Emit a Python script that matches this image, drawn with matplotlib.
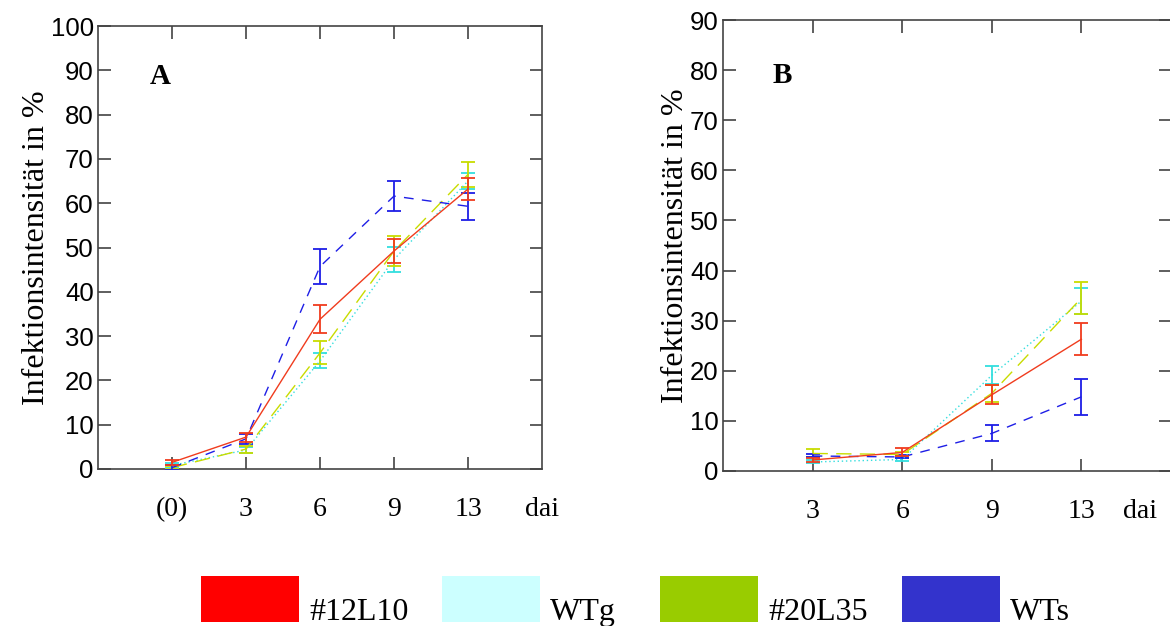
import matplotlib
matplotlib.use("Agg")
import matplotlib.pyplot as plt
from matplotlib.patches import Rectangle
from matplotlib.transforms import offset_copy

# panel A: days (0),3,6,9,13
days_a = ["(0)", "3", "6", "9", "13"]
a_12L10 = [1.5, 7.2, 33.8, 49.2, 63.2]
a_12L10_err = [0.6, 1.0, 3.2, 2.7, 2.5]
a_WTg = [0.8, 4.3, 24.4, 47.3, 65.0]
a_WTg_err = [0.5, 0.7, 1.7, 2.9, 1.9]
a_20L35 = [0.3, 4.5, 26.2, 49.2, 66.5]
a_20L35_err = [0.4, 0.8, 2.6, 3.3, 2.8]
a_WTs = [0.3, 6.8, 45.7, 61.6, 59.3]
a_WTs_err = [0.5, 1.2, 4.0, 3.4, 3.0]

# panel B: days 3,6,9,13
days_b = ["3", "6", "9", "13"]
b_12L10 = [2.2, 3.7, 15.2, 26.3]
b_12L10_err = [0.4, 0.8, 1.9, 3.2]
b_WTg = [1.8, 2.3, 19.1, 33.9]
b_WTg_err = [0.3, 0.3, 1.8, 2.6]
b_20L35 = [3.5, 3.3, 15.5, 34.5]
b_20L35_err = [0.8, 0.4, 1.7, 3.2]
b_WTs = [3.0, 2.8, 7.5, 14.8]
b_WTs_err = [0.3, 0.3, 1.6, 3.6]

names = ["#12L10", "WTg", "#20L35", "WTs"]
legend_colors = ["#ff0000", "#ccffff", "#99cc00", "#3333cc"]
line_colors = ["#f03c1e", "#33dede", "#c8dc00", "#1e1ee6"]
line_styles = ["-", (0, (1, 2)), (0, (11, 6)), (0, (7, 6))]

serif = "Liberation Serif"
sans = "Liberation Sans"

fig = plt.figure(figsize=(11.7, 6.26), dpi=100)
W, H = 1170, 626
ax1 = fig.add_axes([98 / W, 1 - 469 / H, (542 - 98) / W, (469 - 26) / H])
ax2 = fig.add_axes([723 / W, 1 - 471 / H, (1171 - 723) / W, (471 - 20) / H])

panels = [
    (ax1, days_a, [a_12L10, a_WTg, a_20L35, a_WTs],
     [a_12L10_err, a_WTg_err, a_20L35_err, a_WTs_err], 100, "A", 6.0, (0.14, 0.887)),
    (ax2, days_b, [b_12L10, b_WTg, b_20L35, b_WTs],
     [b_12L10_err, b_WTg_err, b_20L35_err, b_WTs_err], 90, "B", 4.66, (0.132, 0.878)),
]

draw_order = [1, 2, 3, 0]
for ax, days, series, errs, ymax, letter, dai_x, letter_pos in panels:
    xs = list(range(1, len(days) + 1))
    for i in draw_order:
        ax.errorbar(xs, series[i], yerr=errs[i], color=line_colors[i],
                    ls=line_styles[i], lw=1.0, elinewidth=1.3,
                    capsize=5, capthick=1.3, zorder=3 + (i == 0))
    ax.set_xlim(0, len(days) + 1)
    ax.set_ylim(0, ymax)
    ax.set_xticks(xs)
    ax.set_xticklabels(days, fontfamily=serif, fontsize=20)
    ax.set_yticks(range(0, ymax + 1, 10))
    ax.set_yticklabels([str(v) for v in range(0, ymax + 1, 10)],
                       fontfamily=sans, fontsize=18.5)
    ax.tick_params(direction="in", length=9, width=1.1, color="#333333",
                   top=True, right=True)
    ax.tick_params(axis="x", pad=20)
    ax.tick_params(axis="y", pad=3)
    for sp in ax.spines.values():
        sp.set_color("#444444")
        sp.set_linewidth(1.2)
    ax.set_ylabel("Infektionsintensität in %", fontfamily=serif, fontsize=23,
                  labelpad=0)
    ax.text(letter_pos[0], letter_pos[1], letter,
            transform=ax.transAxes, fontfamily=serif, fontsize=21,
            fontweight="bold", ha="center", va="center")
    tr = offset_copy(ax.get_xaxis_transform(), fig=fig, y=-41, units="dots")
    ax.text(dai_x, 0, "dai", transform=tr, fontfamily=serif, fontsize=20,
            ha="center", va="center")

# legend row at the bottom
patch_x = [201, 442, 660, 902]
for px, name, col in zip(patch_x, names, legend_colors):
    fig.add_artist(Rectangle((px / W, 1 - 622 / H), 98 / W, 46 / H,
                             transform=fig.transFigure, color=col, lw=0))
    fig.text((px + 108) / W, 1 - 620 / H, name, fontfamily=serif,
             fontsize=23, ha="left", va="baseline")

fig.savefig("out.png", dpi=100)
